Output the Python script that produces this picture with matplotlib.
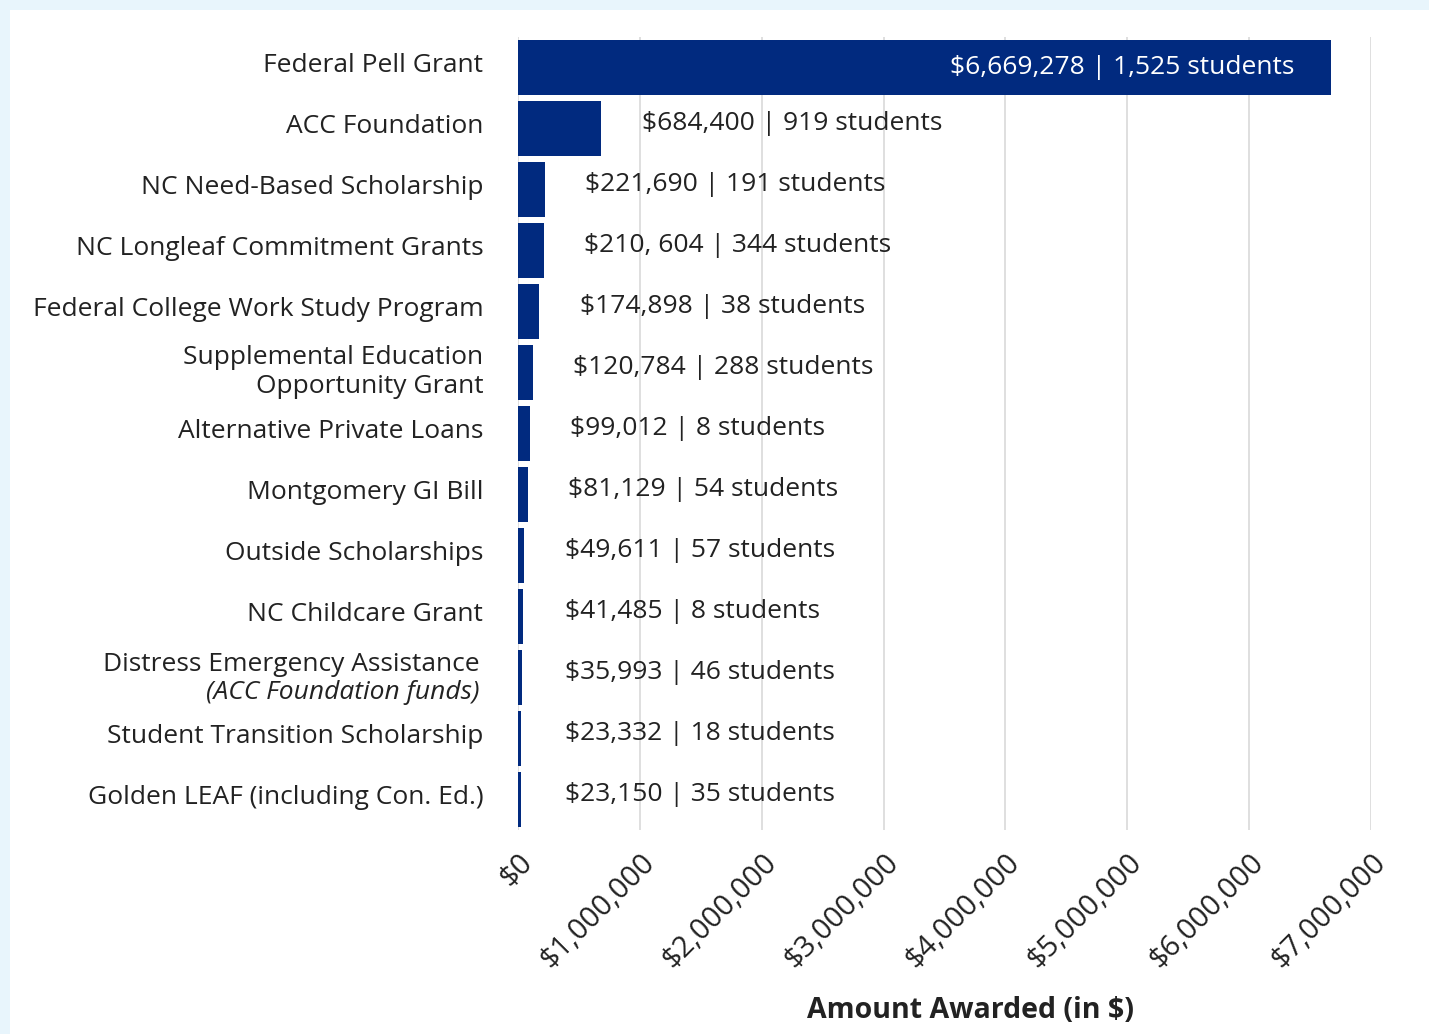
import matplotlib.pyplot as plt
from matplotlib.patches import Rectangle
import matplotlib.transforms as mtransforms

# data
programs = ["Federal Pell Grant", "ACC Foundation", "NC Need-Based Scholarship",
            "NC Longleaf Commitment Grants", "Federal College Work Study Program",
            "Supplemental Education\nOpportunity Grant", "Alternative Private Loans",
            "Montgomery GI Bill", "Outside Scholarships", "NC Childcare Grant",
            "Distress Emergency Assistance", "Student Transition Scholarship",
            "Golden LEAF (including Con. Ed.)"]
amounts = [6669278, 684400, 221690, 210604, 174898, 120784, 99012,
           81129, 49611, 41485, 35993, 23332, 23150]
students = [1525, 919, 191, 344, 38, 288, 8, 54, 57, 8, 46, 18, 35]
amount_text = ["$6,669,278", "$684,400", "$221,690", "$210, 604", "$174,898",
               "$120,784", "$99,012", "$81,129", "$49,611", "$41,485",
               "$35,993", "$23,332", "$23,150"]
xticks = [0, 1000000, 2000000, 3000000, 4000000, 5000000, 6000000, 7000000]
xtick_labels = ["$0", "$1,000,000", "$2,000,000", "$3,000,000", "$4,000,000",
                "$5,000,000", "$6,000,000", "$7,000,000"]

navy = "#012a7f"
txt = "#222222"
plt.rcParams['font.family'] = ['Open Sans', 'DejaVu Sans']

fig = plt.figure(figsize=(14.29, 10.34), dpi=100)
fig.patch.set_facecolor("#e8f5fc")
# white panel
fig.patches.append(Rectangle((10/1429, 0), 1, 1 - 10/1034, transform=fig.transFigure,
                             facecolor="white", edgecolor="none", zorder=-1))

ax = fig.add_axes([518/1429, 1 - 830/1034, (1371-518)/1429, (830-37)/1034])
ax.set_facecolor("none")
ax.set_zorder(2)

ypos = list(range(len(programs)))
ax.barh(ypos, amounts, height=0.9, color=navy, zorder=3)
ax.set_ylim(len(programs) - 0.5, -0.5)
ax.set_xlim(0, 7000000)

up = mtransforms.ScaledTranslation(0, 5/100, fig.dpi_scale_trans)

# x tick labels drawn by hand so they can be nudged
ax.set_xticks(xticks)
ax.set_xticklabels([])
ax.tick_params(axis="x", length=0)
xt = mtransforms.blended_transform_factory(ax.transData, ax.transAxes) + \
    mtransforms.ScaledTranslation(0, -18/100, fig.dpi_scale_trans)
for x, s in zip(xticks, xtick_labels):
    ax.text(x, 0, s, transform=xt, rotation=45, ha="right", va="top",
            rotation_mode="anchor", fontsize=21, color=txt, clip_on=False)

ylabels = [p if i != 10 else "" for i, p in enumerate(programs)]
ax.set_yticks(ypos)
ax.set_yticklabels(ylabels, fontsize=19, color=txt, multialignment="right")
ax.tick_params(axis="y", length=0, pad=25)
for lab in ax.get_yticklabels():
    lab.set_transform(lab.get_transform() + up)

# two-line label with italic second line
tr = mtransforms.blended_transform_factory(fig.transFigure, ax.transData)
ax.text(480/1429, 10 - 0.22, "Distress Emergency Assistance", transform=tr,
        ha="right", va="center", fontsize=19, color=txt)
ax.text(480/1429, 10 + 0.25, "(ACC Foundation funds)", transform=tr,
        ha="right", va="center", fontsize=19, color=txt, style="italic")

ax.grid(axis="x", color="#d9d9d9", linewidth=1.2, zorder=0)
ax.set_axisbelow(True)
for s in ax.spines.values():
    s.set_visible(False)

# value labels
for i, (v, a, n) in enumerate(zip(amounts, amount_text, students)):
    label = "%s | %s students" % (a, format(n, ","))
    if i == 0:
        ax.text(v - 300000, i, label, ha="right", va="center",
                fontsize=19, color="white", zorder=4)
    else:
        t = ax.text(max(v + 330000, 385000), i, label, ha="left", va="center",
                    fontsize=19, color=txt, zorder=4)
        t.set_transform(ax.transData + up)

fig.text(971/1429, 1 - 1011/1034, "Amount Awarded (in $)", ha="center",
         va="center", fontsize=20.5, fontweight="bold", color=txt)

fig.savefig("out.png", dpi=100, facecolor=fig.get_facecolor())
